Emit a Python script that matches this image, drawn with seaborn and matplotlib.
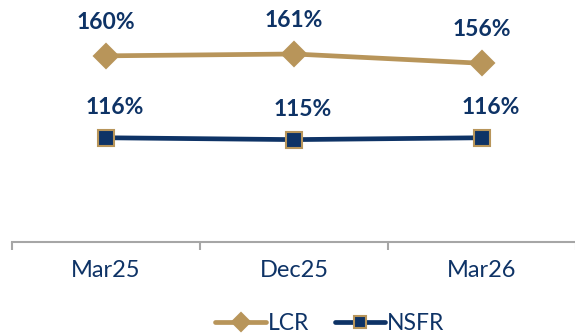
import matplotlib
matplotlib.use("Agg")
import matplotlib.pyplot as plt
import seaborn as sns
import pandas as pd

periods = ["Mar25", "Dec25", "Mar26"]
lcr = [160, 161, 156]
nsfr = [116, 115, 116]

gold = "#B8955A"
navy = "#0E3366"
grey = "#A6A6A6"

df = pd.DataFrame({
    "period": periods * 2,
    "value": lcr + nsfr,
    "metric": ["LCR"] * len(periods) + ["NSFR"] * len(periods),
})
df["x"] = list(range(len(periods))) * 2

sns.set_theme(style="white")
plt.rcParams["font.family"] = ["Lato", "DejaVu Sans"]

fig = plt.figure(figsize=(5.75, 3.35), dpi=100)
ax = fig.add_axes([12 / 575, 93 / 335, 564 / 575, 242 / 335])

sns.lineplot(
    data=df, x="x", y="value", hue="metric", style="metric",
    palette={"LCR": gold, "NSFR": navy},
    markers={"LCR": "D", "NSFR": "s"}, dashes=False,
    linewidth=3.4, markersize=12, markeredgecolor=gold, markeredgewidth=1.5,
    ax=ax, legend=True,
)

# value labels above the points
for i, v in enumerate(lcr):
    ax.annotate(f"{v}%", (i, v), xytext=(0, 24), textcoords="offset points",
                ha="center", va="center", fontsize=16.5, fontweight="bold", color=navy)
for i, v in enumerate(nsfr):
    ax.annotate(f"{v}%", (i, v), xytext=(6, 22), textcoords="offset points",
                ha="center", va="center", fontsize=16.5, fontweight="bold", color=navy)

ax.set_xlim(-0.5, 2.5)
ax.set_ylim(60, 190)
ax.set_xlabel("")
ax.set_ylabel("")
ax.set_yticks([])

# category labels centred, tick marks on boundaries
ax.set_xticks(range(len(periods)))
ax.set_xticklabels(periods, fontsize=17, color=navy)
ax.tick_params(axis="x", which="major", length=0, pad=13)
ax.set_xticks([-0.5, 0.5, 1.5, 2.5], minor=True)
ax.tick_params(axis="x", which="minor", length=6, width=1.5, color=grey, bottom=True)

for s in ["top", "right", "left"]:
    ax.spines[s].set_visible(False)
ax.spines["bottom"].set_color(grey)
ax.spines["bottom"].set_linewidth(1.5)

handles, labels = ax.get_legend_handles_labels()
for h in handles:
    h.set_markersize(9)
leg = ax.legend(handles, labels, loc="center", bbox_to_anchor=(330 / 575, 11 / 335),
                bbox_transform=fig.transFigure, ncol=2, frameon=False,
                prop={"size": 16.5},
                handlelength=2.2, columnspacing=1.1, handletextpad=0.1)
for t in leg.get_texts():
    t.set_color(navy)

fig.savefig("out.png", dpi=100)
